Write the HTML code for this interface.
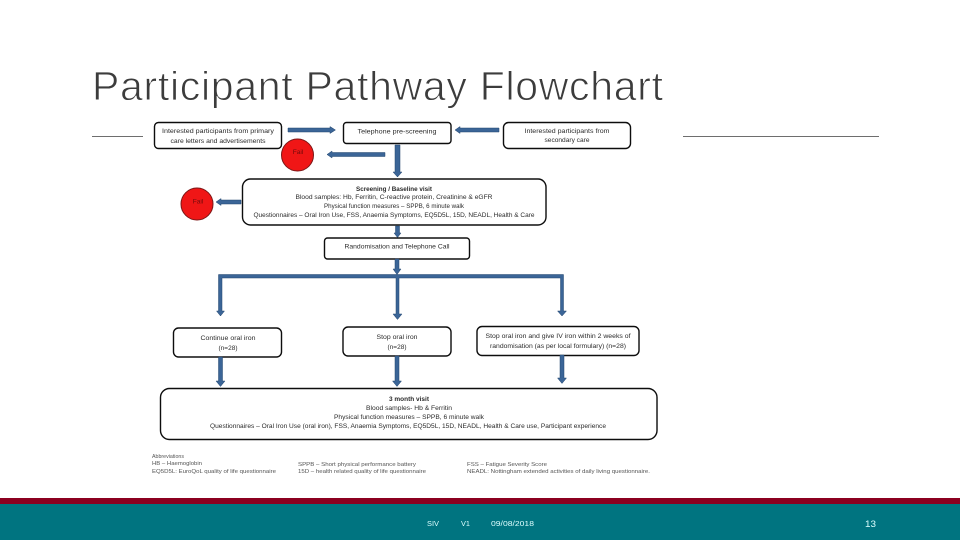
<!DOCTYPE html>
<html><head><meta charset="utf-8"><title>Participant Pathway Flowchart</title>
<style>html,body{margin:0;padding:0;background:#fff}svg{display:block;font-family:"Liberation Sans",sans-serif}
.b{fill:#fff;stroke:#111;stroke-width:1.4}
.t{font-size:6.6px;fill:#2b2b2b;text-anchor:middle}
.s{font-size:5.6px;fill:#555}
.a{fill:#3a6597;stroke:#25466f;stroke-width:.5}
.f{font-size:7.5px;fill:#dff}
</style></head><body>
<svg width="960" height="540" viewBox="0 0 960 540" xmlns="http://www.w3.org/2000/svg">
<defs><filter id="soft" x="-2%" y="-2%" width="104%" height="104%"><feGaussianBlur stdDeviation="0.22"/></filter></defs>
<text x="92" y="100" font-size="41" fill="#3c3c3c" stroke="#fff" stroke-width=".9" textLength="571" lengthAdjust="spacing">Participant Pathway Flowchart</text>
<path d="M92 136.500H143M683 136.500H879" stroke="#6e6e6e" stroke-width="1"/>

<g filter="url(#soft)">
<!-- boxes -->
<rect class="b" x="154.500" y="122.500" width="127" height="26" rx="4"/>
<rect class="b" x="343.500" y="122.500" width="107.500" height="21" rx="3"/>
<rect class="b" x="503.500" y="122.500" width="127" height="26" rx="5"/>
<rect class="b" x="242.500" y="179" width="303.500" height="46" rx="8"/>
<rect class="b" x="324.500" y="238" width="145" height="21" rx="3"/>
<rect class="b" x="173.500" y="328" width="108" height="29" rx="5"/>
<rect class="b" x="343" y="327" width="108" height="29" rx="5"/>
<rect class="b" x="477" y="326.500" width="162" height="29" rx="5"/>
<rect class="b" x="160.500" y="388.500" width="496.500" height="51" rx="9"/>

<!-- circles -->
<circle cx="297.500" cy="155" r="16" fill="#f01414" stroke="#7c1414" stroke-width="1"/>
<circle cx="197" cy="204" r="16" fill="#f01414" stroke="#7c1414" stroke-width="1"/>
<text class="t" x="298" y="154" style="fill:#701010">Fail</text>
<text class="t" x="198" y="203.500" style="fill:#701010">Fail</text>

<!-- arrows -->
<path class="a" d="M288 128H330V126.500L335.500 130L330 133.500V132H288Z"/>
<path class="a" d="M499 128H460V126.500L455 130L460 133.500V132H499Z"/>
<path class="a" d="M385 152.500H332V151L327 154.500L332 158V156.500H385Z"/>
<path class="a" d="M241 200H221V198.500L216 202L221 205.500V204H241Z"/>
<path class="a" d="M395 145V172H393L397.500 177L402 172H400V145Z"/>
<path class="a" d="M395.500 226V233H394L397.500 237.500L401 233H399.500V226Z"/>
<path class="a" d="M395 259V269H393L397 274.500L401 269H399V259Z"/>
<path class="a" d="M218.500 274.500H563.500V311H566.500L562 316L557.500 311H560.500V278H399V314H402L397.500 319.500L393 314H396V278H222V311H224.500L220.500 316L216.500 311H218.500Z"/>
<path class="a" d="M218.500 357V381H216L220.500 386.500L225 381H222.500V357Z"/>
<path class="a" d="M395 356V381H392.500L397 386.500L401.500 381H399V356Z"/>
<path class="a" d="M560 355V378H557.500L562 383.500L566.500 378H564V355Z"/>

<!-- labels -->
<text class="t" x="218" y="133" textLength="112" lengthAdjust="spacingAndGlyphs">Interested participants from primary</text>
<text class="t" x="218" y="143" textLength="95" lengthAdjust="spacingAndGlyphs">care letters and advertisements</text>
<text class="t" x="397" y="133.500" textLength="79" lengthAdjust="spacingAndGlyphs">Telephone pre-screening</text>
<text class="t" x="567" y="133" textLength="85" lengthAdjust="spacingAndGlyphs">Interested participants from</text>
<text class="t" x="567" y="142" textLength="45" lengthAdjust="spacingAndGlyphs">secondary care</text>

<text class="t" x="394" y="191" font-weight="bold" textLength="76" lengthAdjust="spacingAndGlyphs">Screening / Baseline visit</text>
<text class="t" x="394" y="199" textLength="197" lengthAdjust="spacingAndGlyphs">Blood samples: Hb, Ferritin, C-reactive protein, Creatinine &amp; eGFR</text>
<text class="t" x="394" y="208" textLength="140" lengthAdjust="spacingAndGlyphs">Physical function measures – SPPB, 6 minute walk</text>
<text class="t" x="394" y="217" textLength="281" lengthAdjust="spacingAndGlyphs">Questionnaires – Oral Iron Use, FSS, Anaemia Symptoms, EQ5D5L, 15D, NEADL, Health &amp; Care</text>

<text class="t" x="397" y="248.500" textLength="105" lengthAdjust="spacingAndGlyphs">Randomisation and Telephone Call</text>
<text class="t" x="228" y="340" textLength="55" lengthAdjust="spacingAndGlyphs">Continue oral iron</text>
<text class="t" x="228" y="350" textLength="19" lengthAdjust="spacingAndGlyphs">(n=28)</text>
<text class="t" x="397" y="339" textLength="41" lengthAdjust="spacingAndGlyphs">Stop oral iron</text>
<text class="t" x="397" y="349" textLength="19" lengthAdjust="spacingAndGlyphs">(n=28)</text>
<text class="t" x="558" y="338" textLength="145" lengthAdjust="spacingAndGlyphs">Stop oral iron and give IV iron within 2 weeks of</text>
<text class="t" x="558" y="348" textLength="136" lengthAdjust="spacingAndGlyphs">randomisation (as per local formulary) (n=28)</text>

<text class="t" x="409" y="401" font-weight="bold" textLength="40" lengthAdjust="spacingAndGlyphs">3 month visit</text>
<text class="t" x="409" y="410" textLength="86" lengthAdjust="spacingAndGlyphs">Blood samples- Hb &amp; Ferritin</text>
<text class="t" x="409" y="419" textLength="150" lengthAdjust="spacingAndGlyphs">Physical function measures – SPPB, 6 minute walk</text>
<text class="t" x="408" y="428" textLength="396" lengthAdjust="spacingAndGlyphs">Questionnaires – Oral Iron Use (oral iron), FSS, Anaemia Symptoms, EQ5D5L, 15D, NEADL, Health &amp; Care use, Participant experience</text>

<text class="s" x="152" y="458" textLength="32" lengthAdjust="spacingAndGlyphs">Abbreviations</text>
<text class="s" x="152" y="465" textLength="50" lengthAdjust="spacingAndGlyphs">HB – Haemoglobin</text>
<text class="s" x="152" y="473" textLength="124" lengthAdjust="spacingAndGlyphs">EQ5D5L: EuroQoL quality of life questionnaire</text>
<text class="s" x="298" y="466" textLength="118" lengthAdjust="spacingAndGlyphs">SPPB – Short physical performance battery</text>
<text class="s" x="298" y="473" textLength="128" lengthAdjust="spacingAndGlyphs">15D – health related quality of life questionnaire</text>
<text class="s" x="467" y="466" textLength="80" lengthAdjust="spacingAndGlyphs">FSS – Fatigue Severity Score</text>
<text class="s" x="467" y="473" textLength="183" lengthAdjust="spacingAndGlyphs">NEADL: Nottingham extended activities of daily living questionnaire.</text>
</g>

<!-- footer -->
<rect x="0" y="498" width="960" height="6" fill="#8c0020"/>
<rect x="0" y="504" width="960" height="36" fill="#007480"/>
<text class="f" x="427" y="526" textLength="12" lengthAdjust="spacingAndGlyphs">SIV</text>
<text class="f" x="461" y="526" textLength="9" lengthAdjust="spacingAndGlyphs">V1</text>
<text class="f" x="491" y="526" textLength="43" lengthAdjust="spacingAndGlyphs">09/08/2018</text>
<text class="f" x="865" y="527" style="font-size:9px" textLength="11" lengthAdjust="spacingAndGlyphs">13</text>
</svg>
</body></html>
